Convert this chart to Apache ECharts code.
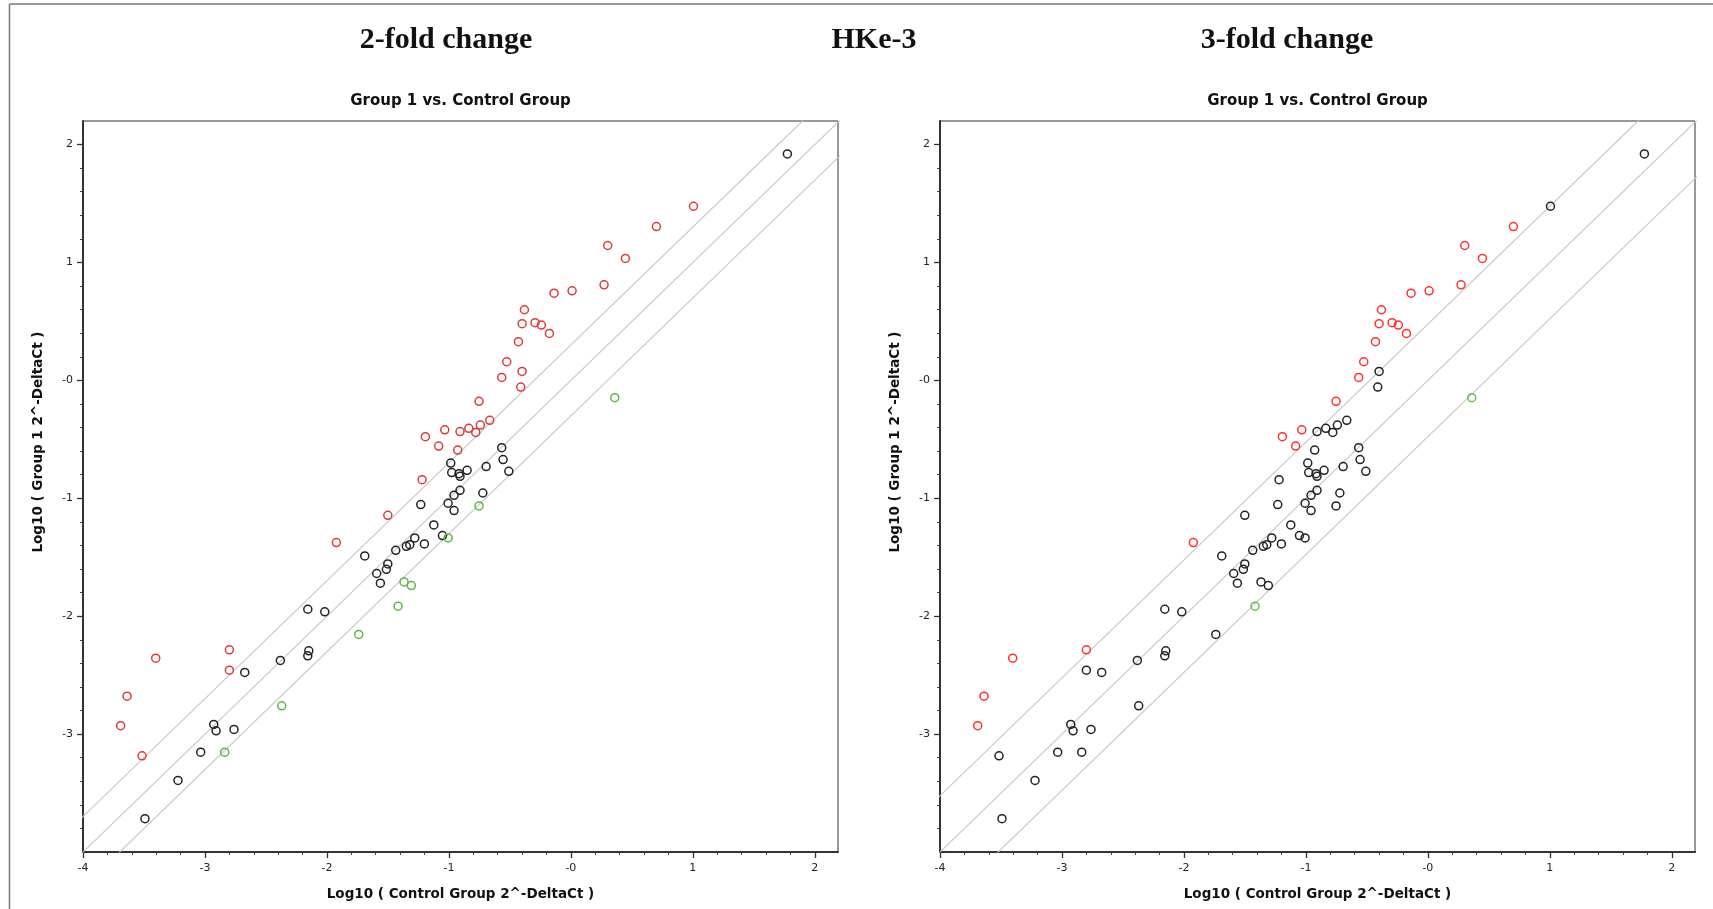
<!DOCTYPE html>
<html>
<head>
<meta charset="utf-8">
<title>HKe-3 scatter plots</title>
<script src="https://cdn.jsdelivr.net/npm/echarts@6/dist/echarts.min.js"></script>
<style>
  html, body { margin: 0; padding: 0; background: #fff; }
  #chart { width: 1713px; height: 909px; }
</style>
</head>
<body>
<div id="chart"></div>
<script>
// Log10(2^-DeltaCt) of each gene in the control group (x) and in group 1 (y)
const control = [
  1.775, 1.005, 0.701, 0.302, 0.447, 0.272, -0.138, 0.010, -0.381, -0.400,
  -0.294, -0.242, -0.176, -0.430, -0.526, -0.567, -0.400, -0.411, 0.360, -0.753,
  -0.665, -0.742, -0.780, -0.837, -0.909, -1.034, -1.193, -1.084, -0.928, -0.567,
  -0.556, -0.509, -0.695, -0.985, -0.977, -0.917, -0.909, -0.851, -1.220, -1.231,
  -1.007, -0.958, -0.909, -0.958, -0.753, -0.722, -1.124, -1.053, -1.007, -1.201,
  -1.280, -1.321, -1.349, -1.436, -1.368, -1.308, -1.417, -1.501, -1.923, -1.690,
  -1.501, -1.513, -1.592, -1.562, -2.157, -2.018, -1.739, -2.800, -2.149, -2.157,
  -2.382, -2.800, -2.674, -3.404, -3.639, -3.691, -2.371, -2.928, -2.909, -2.762,
  -3.035, -2.838, -3.516, -3.221, -3.492
];
const group1 = [
  1.921, 1.477, 1.305, 1.144, 1.034, 0.811, 0.740, 0.760, 0.599, 0.481,
  0.489, 0.469, 0.398, 0.328, 0.158, 0.025, 0.076, -0.057, -0.147, -0.178,
  -0.339, -0.379, -0.441, -0.407, -0.434, -0.419, -0.477, -0.557, -0.591, -0.571,
  -0.672, -0.771, -0.731, -0.701, -0.782, -0.791, -0.814, -0.763, -0.842, -1.053,
  -1.042, -0.975, -0.932, -1.104, -1.065, -0.955, -1.226, -1.316, -1.336, -1.387,
  -1.336, -1.393, -1.407, -1.441, -1.709, -1.740, -1.915, -1.144, -1.376, -1.489,
  -1.557, -1.602, -1.638, -1.720, -1.941, -1.963, -2.155, -2.285, -2.294, -2.336,
  -2.375, -2.458, -2.477, -2.356, -2.678, -2.929, -2.760, -2.918, -2.972, -2.960,
  -3.153, -3.153, -3.184, -3.393, -3.717
];
// Regulation call per gene: U = up, D = down, N = unchanged
const call2fold = [
  'N','U','U','U','U','U','U','U','U','U',
  'U','U','U','U','U','U','U','U','D','U',
  'U','U','U','U','U','U','U','U','U','N',
  'N','N','N','N','N','N','N','N','U','N',
  'N','N','N','N','D','N','N','N','D','N',
  'N','N','N','N','D','D','D','U','U','N',
  'N','N','N','N','N','N','D','U','N','N',
  'N','U','N','U','U','U','D','N','N','N',
  'N','D','U','N','N'
];
const call3fold = [
  'N','N','U','U','U','U','U','U','U','U',
  'U','U','U','U','U','U','N','N','D','U',
  'N','N','N','N','N','U','U','U','N','N',
  'N','N','N','N','N','N','N','N','N','N',
  'N','N','N','N','N','N','N','N','N','N',
  'N','N','N','N','N','N','D','N','U','N',
  'N','N','N','N','N','N','N','U','N','N',
  'N','N','N','U','U','U','N','N','N','N',
  'N','N','N','N','N'
];
const foldChanges = [2, 3];
const panelTitles = ['2-fold change', '3-fold change'];
const cellLine = 'HKe-3';
const comparison = 'Group 1 vs. Control Group';
const xAxisTitle = 'Log10 ( Control Group 2^-DeltaCt )';
const yAxisTitle = 'Log10 ( Group 1 2^-DeltaCt )';
const xTickValues = [-4, -3, -2, -1, 0, 1, 2];
const xTickLabels = ['-4', '-3', '-2', '-1', '-0', '1', '2'];
const yTickValues = [-3, -2, -1, 0, 1, 2];
const yTickLabels = ['-3', '-2', '-1', '-0', '1', '2'];

// Layout of the two panels
const X_MIN = -4, X_MAX = 2.19, Y_MIN = -4, Y_MAX = 2.2;
const panels = [
  { left: 83, top: 121, width: 755, height: 731, titleX: 446, up: '#dc3b3b', down: '#5cb646', none: '#222222' },
  { left: 940, top: 121, width: 755, height: 731, titleX: 1287, up: '#ff3030', down: '#66c244', none: '#222222' }
];
const calls = [call2fold, call3fold];

function minorValues(min, max) {
  const out = [];
  for (let i = Math.round(min * 5); i <= Math.round(max * 5); i++) {
    if (i % 5 !== 0) out.push(i / 5);
  }
  return out;
}

const tickFont = { fontFamily: 'DejaVu Sans', fontSize: 11, color: '#222' };
const boldFont = { fontFamily: 'DejaVu Sans', fontWeight: 'bold', fontSize: 13.5, color: '#111' };

const grid = [], xAxis = [], yAxis = [], series = [], title = [], graphic = [];

// outer frame (top and left edges)
graphic.push({ type: 'line', shape: { x1: 9.5, y1: 4, x2: 1713, y2: 4 }, style: { stroke: '#777', lineWidth: 1.5 }, silent: true });
graphic.push({ type: 'line', shape: { x1: 9.5, y1: 4, x2: 9.5, y2: 909 }, style: { stroke: '#777', lineWidth: 1.5 }, silent: true });

const headFont = { fontFamily: 'Liberation Serif', fontWeight: 'bold', fontSize: 30, color: '#111' };
title.push({ text: cellLine, left: 874, top: 25, textAlign: 'center', padding: 0, textStyle: headFont });

panels.forEach((p, g) => {
  grid.push({ left: p.left, top: p.top, width: p.width, height: p.height, show: true,
    borderColor: '#333', borderWidth: 1, backgroundColor: '#fff', containLabel: false });

  title.push({ text: panelTitles[g], left: p.titleX, top: 25, textAlign: 'center', padding: 0, textStyle: headFont });
  title.push({ text: comparison, left: p.left + p.width / 2, top: 94, textAlign: 'center', padding: 0,
    textStyle: Object.assign({}, boldFont, { fontSize: 15 }) });

  // main axes: line, labels and major ticks
  xAxis.push({
    type: 'value', gridIndex: g, min: X_MIN, max: X_MAX,
    name: xAxisTitle, nameLocation: 'middle', nameGap: 35, nameTextStyle: boldFont,
    axisLine: { show: true, onZero: false, lineStyle: { color: '#333', width: 2 } },
    axisTick: { show: true, length: 6, customValues: xTickValues, lineStyle: { color: '#333', width: 1.3 } },
    axisLabel: { show: true, margin: 11, customValues: xTickValues,
      formatter: v => xTickLabels[xTickValues.indexOf(Math.round(v))], ...tickFont },
    splitLine: { show: false }
  });
  yAxis.push({
    type: 'value', gridIndex: g, min: Y_MIN, max: Y_MAX,
    axisLine: { show: true, onZero: false, lineStyle: { color: '#333', width: 2 } },
    axisTick: { show: true, length: 6, customValues: yTickValues, lineStyle: { color: '#333', width: 1.3 } },
    axisLabel: { show: true, margin: 10, customValues: yTickValues,
      formatter: v => yTickLabels[yTickValues.indexOf(Math.round(v))], ...tickFont },
    splitLine: { show: false }
  });
  // companion axes carrying the minor ticks
  xAxis.push({
    type: 'value', gridIndex: g, min: X_MIN, max: X_MAX, position: 'bottom',
    axisLine: { show: false, onZero: false }, axisLabel: { show: false }, splitLine: { show: false },
    axisTick: { show: true, length: 3, customValues: minorValues(X_MIN, 2), lineStyle: { color: '#444', width: 1 } }
  });
  yAxis.push({
    type: 'value', gridIndex: g, min: Y_MIN, max: Y_MAX, position: 'left',
    axisLine: { show: false, onZero: false }, axisLabel: { show: false }, splitLine: { show: false },
    axisTick: { show: true, length: 3, customValues: minorValues(Y_MIN, 2), lineStyle: { color: '#444', width: 1 } }
  });

  graphic.push({
    type: 'text', x: p.left - 45, y: 442, rotation: Math.PI / 2,
    style: { text: yAxisTitle, align: 'center', verticalAlign: 'middle',
      font: 'bold 13.5px "DejaVu Sans"', fill: '#111' }, silent: true
  });

  // equal-expression line and the fold-change boundaries
  const off = Math.log10(foldChanges[g]);
  [off, 0, -off].forEach(o => {
    series.push({
      type: 'line', xAxisIndex: 2 * g, yAxisIndex: 2 * g, clip: true, silent: true,
      symbol: 'none', lineStyle: { color: '#c8c8c8', width: 1.2 },
      data: [[X_MIN - 1, X_MIN - 1 + o], [X_MAX + 1, X_MAX + 1 + o]], z: 1
    });
  });

  // genes, coloured by regulation call
  [['N', p.none], ['U', p.up], ['D', p.down]].forEach(([code, color]) => {
    const pts = [];
    control.forEach((x, i) => { if (calls[g][i] === code) pts.push([x, group1[i]]); });
    series.push({
      type: 'scatter', xAxisIndex: 2 * g, yAxisIndex: 2 * g, symbol: 'circle', symbolSize: 8,
      itemStyle: { color: 'rgba(0,0,0,0)', borderColor: color, borderWidth: 1.5, opacity: 1 },
      data: pts, z: 3
    });
  });
});

const chart = echarts.init(document.getElementById('chart'), null, { renderer: 'canvas' });
chart.setOption({
  animation: false,
  backgroundColor: '#fff',
  title, grid, xAxis, yAxis, series, graphic
});
</script>
</body>
</html>
